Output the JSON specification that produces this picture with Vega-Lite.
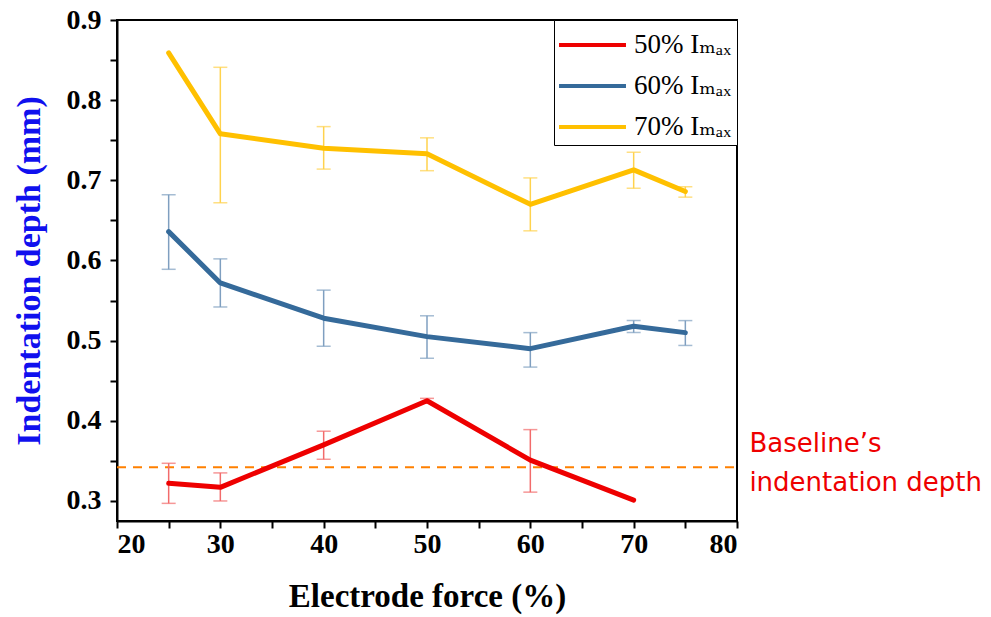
{
  "$schema": "https://vega.github.io/schema/vega-lite/v6.json",
  "width": 620,
  "height": 501,
  "autosize": {"type": "none"},
  "padding": {"left": 117, "top": 20, "right": 254, "bottom": 96},
  "background": "white",
  "config": {
    "view": {"stroke": "black", "strokeWidth": 2},
    "axis": {
      "domainColor": "black", "domainWidth": 2, "tickColor": "black", "tickWidth": 2,
      "grid": false, "labelFont": "Liberation Serif", "labelFontWeight": "bold", "labelFontSize": 28,
      "labelColor": "black", "titleFont": "Liberation Serif", "titleFontWeight": "bold", "titleFontSize": 33
    }
  },
  "resolve": {"scale": {"color": "independent"}, "legend": {"color": "independent"}},
  "datasets": {
    "pts": [
      {"force": 25, "series": "50% Iₘₐₓ", "depth": 0.322, "lo": 0.297, "hi": 0.347},
      {"force": 30, "series": "50% Iₘₐₓ", "depth": 0.317, "lo": 0.300, "hi": 0.335},
      {"force": 40, "series": "50% Iₘₐₓ", "depth": 0.370, "lo": 0.352, "hi": 0.387},
      {"force": 50, "series": "50% Iₘₐₓ", "depth": 0.425, "lo": 0.422, "hi": 0.428},
      {"force": 60, "series": "50% Iₘₐₓ", "depth": 0.351, "lo": 0.311, "hi": 0.389},
      {"force": 70, "series": "50% Iₘₐₓ", "depth": 0.301, "lo": null, "hi": null},
      {"force": 25, "series": "60% Iₘₐₓ", "depth": 0.636, "lo": 0.589, "hi": 0.682},
      {"force": 30, "series": "60% Iₘₐₓ", "depth": 0.572, "lo": 0.542, "hi": 0.602},
      {"force": 40, "series": "60% Iₘₐₓ", "depth": 0.528, "lo": 0.493, "hi": 0.563},
      {"force": 50, "series": "60% Iₘₐₓ", "depth": 0.505, "lo": 0.478, "hi": 0.531},
      {"force": 60, "series": "60% Iₘₐₓ", "depth": 0.490, "lo": 0.467, "hi": 0.510},
      {"force": 70, "series": "60% Iₘₐₓ", "depth": 0.518, "lo": 0.510, "hi": 0.525},
      {"force": 75, "series": "60% Iₘₐₓ", "depth": 0.510, "lo": 0.494, "hi": 0.525},
      {"force": 25, "series": "70% Iₘₐₓ", "depth": 0.859, "lo": null, "hi": null},
      {"force": 30, "series": "70% Iₘₐₓ", "depth": 0.758, "lo": 0.672, "hi": 0.841},
      {"force": 40, "series": "70% Iₘₐₓ", "depth": 0.740, "lo": 0.714, "hi": 0.767},
      {"force": 50, "series": "70% Iₘₐₓ", "depth": 0.733, "lo": 0.712, "hi": 0.753},
      {"force": 60, "series": "70% Iₘₐₓ", "depth": 0.670, "lo": 0.637, "hi": 0.703},
      {"force": 70, "series": "70% Iₘₐₓ", "depth": 0.713, "lo": 0.690, "hi": 0.735},
      {"force": 75, "series": "70% Iₘₐₓ", "depth": 0.686, "lo": 0.679, "hi": 0.692}
    ],
    "baseline": [{"depth": 0.342, "x1": 20, "x2": 80, "tx": 81.2, "ty": 0.371}]
  },
  "encoding": {
    "x": {
      "field": "force", "type": "quantitative",
      "scale": {"domain": [20, 80], "nice": false},
      "axis": {
        "title": "Electrode force (%)", "titlePadding": 22,
        "values": [20, 25, 30, 35, 40, 45, 50, 55, 60, 65, 70, 75, 80],
        "labelExpr": "datum.value % 10 == 0 ? datum.label : ''",
        "tickSize": 7, "labelPadding": 2
      }
    }
  },
  "layer": [
    {
      "data": {"name": "baseline"},
      "mark": {"type": "rule", "color": "#FF8000", "strokeWidth": 2, "strokeDash": [9, 7]},
      "encoding": {
        "x": {"field": "x1", "type": "quantitative"},
        "x2": {"field": "x2"},
        "y": {"field": "depth", "type": "quantitative", "title": "Indentation depth (mm)"}
      }
    },
    {
      "data": {"name": "pts"},
      "transform": [{"filter": "isValid(datum.lo)"}],
      "mark": {"type": "errorbar", "ticks": {"size": 14}, "thickness": 1.5},
      "encoding": {
        "y": {"field": "lo", "type": "quantitative", "title": "Indentation depth (mm)"},
        "y2": {"field": "hi"},
        "color": {
          "field": "series", "type": "nominal", "legend": null,
          "scale": {"domain": ["50% Iₘₐₓ", "60% Iₘₐₓ", "70% Iₘₐₓ"], "range": ["#F26B6B", "#7F9FC0", "#FFD24D"]}
        }
      }
    },
    {
      "data": {"name": "pts"},
      "mark": {"type": "line", "strokeWidth": 5, "strokeCap": "round", "strokeJoin": "round"},
      "encoding": {
        "y": {
          "field": "depth", "type": "quantitative",
          "scale": {"domain": [0.275, 0.9], "nice": false, "zero": false},
          "axis": {
            "title": "Indentation depth (mm)", "titleColor": "#1010EE", "titleFontSize": 34, "titlePadding": 20,
            "values": [0.3, 0.35, 0.4, 0.45, 0.5, 0.55, 0.6, 0.65, 0.7, 0.75, 0.8, 0.85, 0.9],
            "labelExpr": "abs(datum.value*10 - round(datum.value*10)) < 0.01 ? format(datum.value, '.1f') : ''",
            "tickSize": 7, "labelPadding": 9
          }
        },
        "color": {
          "field": "series", "type": "nominal",
          "scale": {"domain": ["50% Iₘₐₓ", "60% Iₘₐₓ", "70% Iₘₐₓ"], "range": ["#EE0000", "#356A9A", "#FFC000"]},
          "legend": {
            "title": null, "orient": "top-right", "offset": 0,
            "strokeColor": "black", "fillColor": "white", "padding": 5,
            "symbolType": "M-1.11,0H2.61", "symbolStrokeWidth": 4, "symbolSize": 1296, "symbolOpacity": 1,
            "labelFont": "'Liberation Serif', 'DejaVu Serif', serif", "labelFontSize": 27, "labelColor": "black",
            "rowPadding": 8, "labelOffset": 35
          }
        }
      }
    },
    {
      "data": {"name": "baseline"},
      "mark": {"type": "text", "align": "left", "baseline": "middle", "color": "#EE0000", "font": "DejaVu Sans", "fontSize": 26, "lineHeight": 39, "clip": false},
      "encoding": {
        "x": {"field": "tx", "type": "quantitative"},
        "y": {"field": "ty", "type": "quantitative"},
        "text": {"value": ["Baseline’s", "indentation depth"]}
      }
    }
  ]
}
